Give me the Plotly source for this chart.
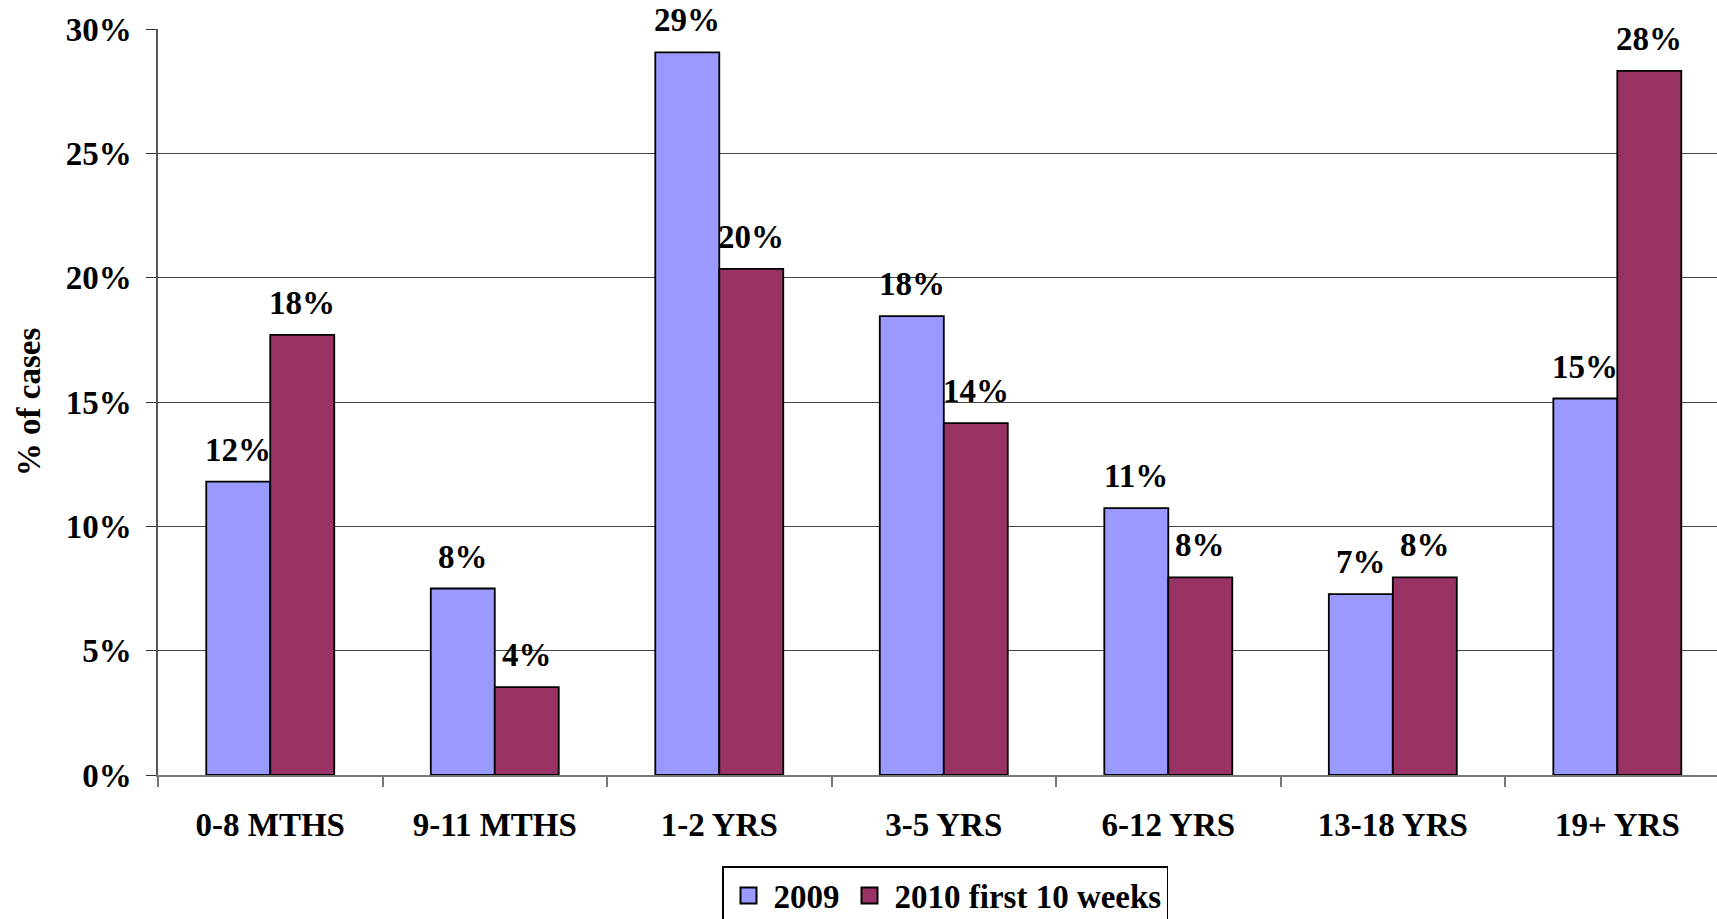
import plotly.graph_objects as go

categories = ["0-8 MTHS", "9-11 MTHS", "1-2 YRS", "3-5 YRS", "6-12 YRS", "13-18 YRS", "19+ YRS"]
series_names = ["2009", "2010 first 10 weeks"]
values_2009 = [11.8, 7.5, 29.06, 18.45, 10.73, 7.27, 15.14]
values_2010 = [17.7, 3.53, 20.35, 14.15, 7.95, 7.95, 28.32]
y_ticks = [0, 5, 10, 15, 20, 25, 30]
y_tick_labels = ["0%", "5%", "10%", "15%", "20%", "25%", "30%"]

COLORS = ["#9999FF", "#993366"]
FONT = "Liberation Serif"
FS = 33
BARGAP = 0.43

def pct_label(v):
    return f"{int(v + 0.5)}%"

fig = go.Figure()
for name, vals, col in zip(series_names, [values_2009, values_2010], COLORS):
    fig.add_trace(go.Bar(
        x=categories, y=vals, name=name, showlegend=False, legendgroup=name,
        marker=dict(color=col, line=dict(color="black", width=1.8)),
    ))
# legend entries with larger square swatches
for name, col in zip(series_names, COLORS):
    fig.add_trace(go.Scatter(
        x=[None], y=[None], mode="markers", name=name, legendgroup=name,
        marker=dict(symbol="square", size=16, color=col, line=dict(color="black", width=2)),
    ))

offset = (1 - BARGAP) / 4
for k, vals in enumerate([values_2009, values_2010]):
    sign = -1 if k == 0 else 1
    for i, v in enumerate(vals):
        fig.add_annotation(
            x=i + sign * offset, y=v, xref="x", yref="y",
            text=pct_label(v), showarrow=False,
            yanchor="bottom", xanchor="center", yshift=12,
            font=dict(family=FONT, size=FS, color="black", weight="bold"),
        )

fig.update_layout(
    width=1717, height=919,
    margin=dict(l=158, r=0, t=29, b=144, autoexpand=False),
    paper_bgcolor="white", plot_bgcolor="white",
    barmode="group", bargap=BARGAP, bargroupgap=0,
    font=dict(family=FONT, size=FS, color="black", weight="bold"),
    showlegend=True,
    legend=dict(
        orientation="h", xref="container", yref="container",
        x=945 / 1717, xanchor="center", y=(919 - 866) / 919, yanchor="top",
        bordercolor="black", borderwidth=1.5, bgcolor="white",
        font=dict(family=FONT, size=FS, color="black", weight="bold"),
        traceorder="normal", itemsizing="trace", itemwidth=40,
    ),
    xaxis=dict(
        type="category", range=[-0.5, 6.444], automargin=False,
        showline=True, linecolor="#777777", linewidth=1.5,
        ticks="outside", tickson="boundaries", ticklen=10, tickcolor="#777777", tickwidth=1.5,
        ticklabelstandoff=20,
        showgrid=False, zeroline=False,
        tickfont=dict(family=FONT, size=FS, color="black", weight="bold"),
    ),
    yaxis=dict(
        range=[0, 30], tickvals=y_ticks, ticktext=y_tick_labels, automargin=False,
        showline=True, linecolor="#555555", linewidth=1.5,
        ticks="outside", ticklen=10, tickcolor="#333333", tickwidth=1.2,
        ticklabelstandoff=8,
        showgrid=True, gridcolor="#444444", gridwidth=1.2,
        zeroline=False,
        tickfont=dict(family=FONT, size=FS, color="black", weight="bold"),
        title=dict(text="% of cases", standoff=15,
                   font=dict(family=FONT, size=FS, color="black", weight="bold")),
    ),
)

fig.write_html("out.html", config={"displayModeBar": False},
               post_script="document.body.style.margin='0';")
